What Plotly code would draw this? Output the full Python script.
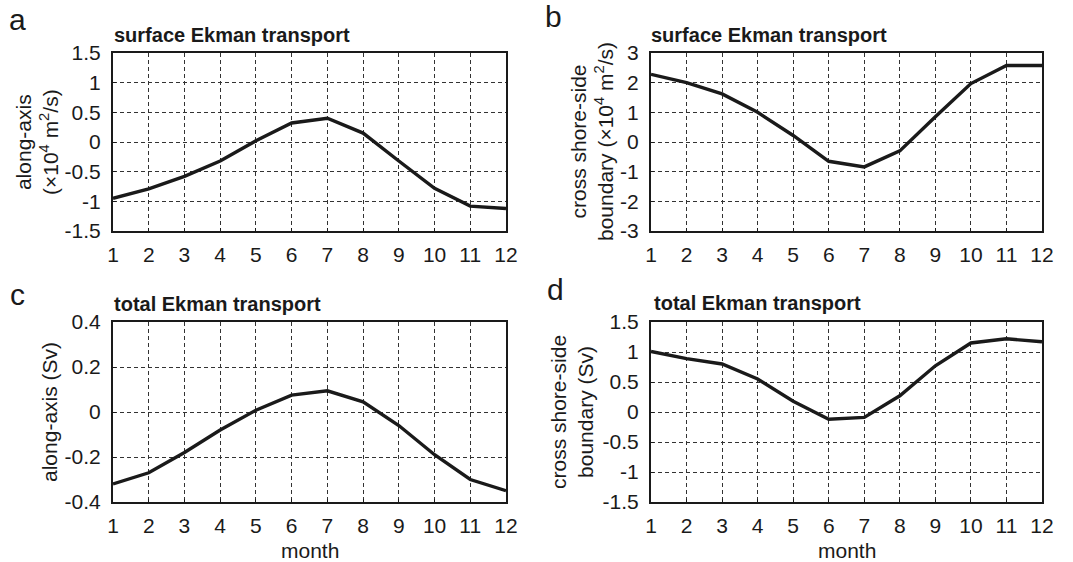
import plotly.graph_objects as go

W, H = 1073, 562

months = list(range(1, 13))
month_labels = [str(m) for m in months]

surf_along = [-0.95, -0.79, -0.58, -0.32, 0.02, 0.32, 0.40, 0.15, -0.32, -0.78, -1.08, -1.12]
surf_cross = [2.28, 2.0, 1.62, 1.0, 0.22, -0.65, -0.84, -0.30, 0.85, 1.97, 2.58, 2.58]
total_along = [-0.32, -0.27, -0.18, -0.08, 0.008, 0.075, 0.094, 0.045, -0.06, -0.19, -0.30, -0.35]
total_cross = [1.01, 0.89, 0.80, 0.55, 0.18, -0.12, -0.09, 0.27, 0.77, 1.15, 1.22, 1.17]

ya_vals = [-1.5, -1, -0.5, 0, 0.5, 1, 1.5]
ya_text = ["-1.5", "-1", "-0.5", "0", "0.5", "1", "1.5"]
yb_vals = [-3, -2, -1, 0, 1, 2, 3]
yb_text = ["-3", "-2", "-1", "0", "1", "2", "3"]
yc_vals = [-0.4, -0.2, 0, 0.2, 0.4]
yc_text = ["-0.4", "-0.2", "0", "0.2", "0.4"]
yd_vals = [-1.5, -1, -0.5, 0, 0.5, 1, 1.5]
yd_text = ["-1.5", "-1", "-0.5", "0", "0.5", "1", "1.5"]

panel_titles = ["surface Ekman transport", "surface Ekman transport",
                "total Ekman transport", "total Ekman transport"]
panel_letters = ["a", "b", "c", "d"]
y_titles = ["along-axis<br>(×10<sup>4</sup> m<sup>2</sup>/s)",
            "cross shore-side<br>boundary (×10<sup>4</sup> m<sup>2</sup>/s)",
            "along-axis (Sv)",
            "cross shore-side<br>boundary (Sv)"]
x_title = "month"

FONT = "Liberation Sans, Arial, sans-serif"
INK = "#1a1a1a"

# pixel boxes (left, right, top, bottom)
boxes = [(113, 506, 53, 231), (651, 1042, 53, 231),
         (113, 506, 322, 502), (651, 1042, 322, 502)]
ranges = [(-1.5, 1.5), (-3, 3), (-0.4, 0.4), (-1.5, 1.5)]
yticks = [(ya_vals, ya_text), (yb_vals, yb_text), (yc_vals, yc_text), (yd_vals, yd_text)]
series = [surf_along, surf_cross, total_along, total_cross]

fig = go.Figure()
for i in range(4):
    l, r, t, b = boxes[i]
    xa = "xaxis" if i == 0 else f"xaxis{i+1}"
    ya = "yaxis" if i == 0 else f"yaxis{i+1}"
    xref = "x" if i == 0 else f"x{i+1}"
    yref = "y" if i == 0 else f"y{i+1}"
    fig.add_trace(go.Scatter(x=months, y=series[i], mode="lines",
                             line=dict(color=INK, width=3.4),
                             xaxis=xref, yaxis=yref, showlegend=False))
    common = dict(showline=True, mirror=True, linecolor=INK, linewidth=2,
                  showgrid=True, gridcolor="#333333", griddash="4px,3px", gridwidth=1,
                  zeroline=False, ticks="inside", ticklen=3, tickcolor=INK,
                  automargin=False,
                  tickfont=dict(family=FONT, size=21, color=INK))
    fig.layout[xa] = dict(domain=[l / W, r / W], range=[1, 12], anchor=yref,
                          tickvals=months, ticktext=month_labels,
                          ticklabelstandoff=4, **common)
    fig.layout[ya] = dict(domain=[1 - b / H, 1 - t / H], range=list(ranges[i]), anchor=xref,
                          tickvals=yticks[i][0], ticktext=yticks[i][1],
                          ticklabelstandoff=6, **common)

# annotations
ann = []
title_pos = [(112, 35), (649, 35), (112, 304), (652, 303)]
letter_pos = [(17, 19), (553, 16), (17, 294), (555, 289)]
ytitle_x = [37, 592, 49, 572]
for i in range(4):
    l, r, t, b = boxes[i]
    ann.append(dict(text=f"<b>{panel_titles[i]}</b>", x=title_pos[i][0] / W, y=1 - title_pos[i][1] / H,
                    xref="paper", yref="paper", xanchor="left", yanchor="middle", showarrow=False,
                    font=dict(family=FONT, size=20, color=INK)))
    ann.append(dict(text=panel_letters[i], x=letter_pos[i][0] / W, y=1 - letter_pos[i][1] / H,
                    xref="paper", yref="paper", xanchor="center", yanchor="middle", showarrow=False,
                    font=dict(family=FONT, size=30, color=INK)))
    ann.append(dict(text=y_titles[i], x=ytitle_x[i] / W, y=1 - ((t + b) / 2) / H,
                    xref="paper", yref="paper", xanchor="center", yanchor="middle", showarrow=False,
                    textangle=-90, font=dict(family=FONT, size=21, color=INK)))
for i in (2, 3):
    l, r, t, b = boxes[i]
    ann.append(dict(text=x_title, x=((l + r) / 2) / W, y=1 - 550 / H,
                    xref="paper", yref="paper", xanchor="center", yanchor="middle", showarrow=False,
                    font=dict(family=FONT, size=21, color=INK)))

fig.update_layout(width=W, height=H, margin=dict(l=0, r=0, t=0, b=0, autoexpand=False),
                  paper_bgcolor="white", plot_bgcolor="white", annotations=ann)
fig.write_html("out.html")
